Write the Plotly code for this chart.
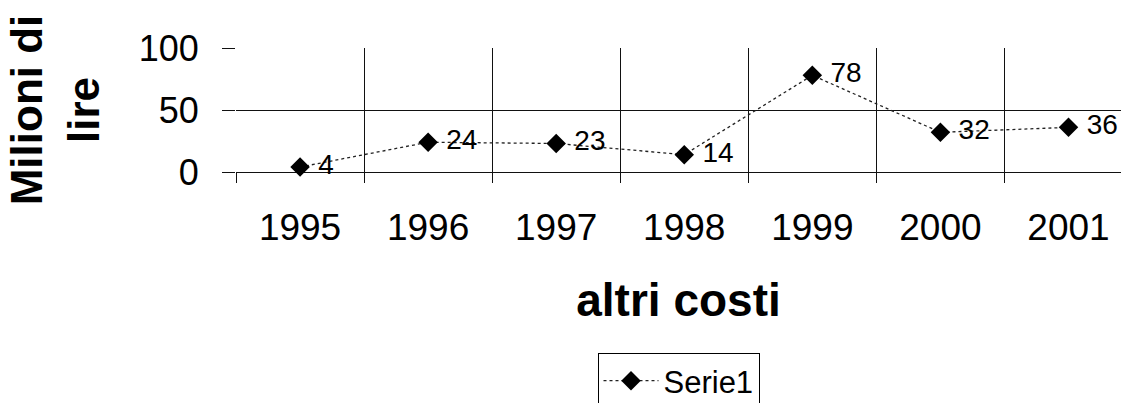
import plotly.graph_objects as go

years = ["1995", "1996", "1997", "1998", "1999", "2000", "2001"]
values = [4, 24, 23, 14, 78, 32, 36]
y_ticks = [0, 50, 100]
series_name = "Serie1"
x_title = "altri costi"
y_title = "Milioni di<br>lire"

FONT = "Arial, Liberation Sans, sans-serif"

fig = go.Figure()
fig.add_trace(go.Scatter(
    x=years, y=values, name=series_name,
    mode="lines+markers+text",
    line=dict(color="#222222", width=1.3, dash="dot"),
    marker=dict(symbol="diamond", size=15, color="black"),
    text=[" " + str(v) for v in values],
    textposition="middle right",
    textfont=dict(family=FONT, size=28, color="black"),
    cliponaxis=False,
))

fig.update_layout(
    width=1121, height=403,
    margin=dict(l=236, r=0, t=48, b=231, autoexpand=False),
    paper_bgcolor="white", plot_bgcolor="white",
    font=dict(family=FONT, color="black"),
    showlegend=True,
    legend=dict(
        x=0.5, xanchor="center", y=-1.46, yanchor="top",
        bordercolor="black", borderwidth=1,
        font=dict(family=FONT, size=31, color="black"),
        itemwidth=55,
    ),
    xaxis=dict(
        type="category",
        range=[-0.5, 6.41],
        tickson="boundaries",
        automargin=False,
        showgrid=True, gridcolor="#111111", gridwidth=1,
        ticks="outside", ticklen=10, tickcolor="#111111",
        tickfont=dict(family=FONT, size=37, color="black"),
        ticklabelstandoff=30,
        showline=False, zeroline=False,
        title=dict(text=f"<b>{x_title}</b>",
                   font=dict(family=FONT, size=46, color="black"),
                   standoff=36),
    ),
    yaxis=dict(
        range=[0, 100],
        tickvals=y_ticks,
        automargin=False,
        showgrid=True, gridcolor="#111111", gridwidth=1,
        ticks="outside", ticklen=13, tickcolor="#111111",
        tickfont=dict(family=FONT, size=36, color="black"),
        ticklabelstandoff=16,
        zeroline=True, zerolinecolor="#111111", zerolinewidth=1,
        showline=False,
        title=dict(text=f"<b>{y_title}</b>",
                   font=dict(family=FONT, size=44, color="black"),
                   standoff=25),
    ),
)

fig.write_html(
    "out.html",
    config={"displayModeBar": False},
    post_script="document.body.style.margin='0px';document.body.style.overflow='hidden';",
)
